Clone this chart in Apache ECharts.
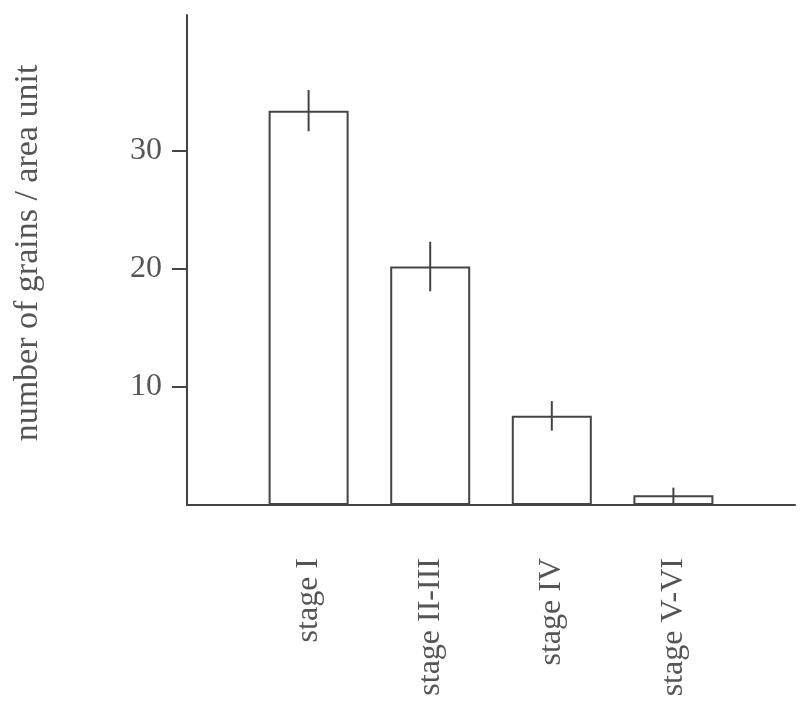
<!DOCTYPE html>
<html>
<head>
<meta charset="utf-8">
<script src="https://cdn.jsdelivr.net/npm/echarts@6/dist/echarts.min.js"></script>
<style>
  html, body { margin: 0; padding: 0; background: #fff; }
  #chart { width: 812px; height: 712px; }
</style>
</head>
<body>
<div id="chart"></div>
<script>
const categories = ['stage I', 'stage II-III', 'stage IV', 'stage V-VI'];
const means = [33.4, 20.2, 7.55, 0.82];
const errors = [1.75, 2.1, 1.25, 0.65];
const yTicks = [10, 20, 30];
const yAxisName = 'number of grains / area unit';

const ink = '#444';
const font = '"Liberation Serif", "DejaVu Serif", serif';

const barData = means.map((v, i) => [i + 1, v]);
const errData = means.map((v, i) => [i + 1, v - errors[i], v + errors[i]]);

const chart = echarts.init(document.getElementById('chart'), null, { renderer: 'canvas' });
chart.setOption({
  animation: false,
  backgroundColor: '#fff',
  grid: { left: 187, right: 17, top: 15, bottom: 207, containLabel: false },
  xAxis: {
    type: 'value',
    min: 0, max: 5, interval: 1,
    splitLine: { show: false },
    axisLine: { show: true, onZero: false, lineStyle: { color: ink, width: 2 } },
    axisTick: { show: false },
    axisLabel: {
      rotate: 90,
      margin: 53,
      color: '#555',
      fontFamily: font,
      fontSize: 32,
      formatter: v => categories[v - 1] || ''
    }
  },
  yAxis: {
    type: 'value',
    min: 0, max: 41.5,
    name: yAxisName,
    nameLocation: 'middle',
    nameGap: 142,
    nameTextStyle: { color: '#555', fontFamily: font, fontSize: 34, padding: [0, 0, 0, 14] },
    splitLine: { show: false },
    axisLine: { show: true, lineStyle: { color: ink, width: 2 } },
    axisTick: { show: true, length: 15, customValues: yTicks, lineStyle: { color: ink, width: 2 } },
    axisLabel: { margin: 25, color: '#555', fontFamily: font, fontSize: 32, customValues: yTicks }
  },
  series: [
    {
      type: 'bar',
      data: barData,
      barWidth: 80,
      itemStyle: { color: '#fff', borderColor: ink, borderWidth: 2 },
      silent: true
    },
    {
      type: 'custom',
      data: errData,
      z: 5,
      renderItem: (params, api) => {
        const lo = api.coord([api.value(0), api.value(1)]);
        const hi = api.coord([api.value(0), api.value(2)]);
        return {
          type: 'line',
          shape: { x1: lo[0], y1: lo[1], x2: hi[0], y2: hi[1] },
          style: { stroke: ink, lineWidth: 2 }
        };
      }
    }
  ]
});
</script>
</body>
</html>
